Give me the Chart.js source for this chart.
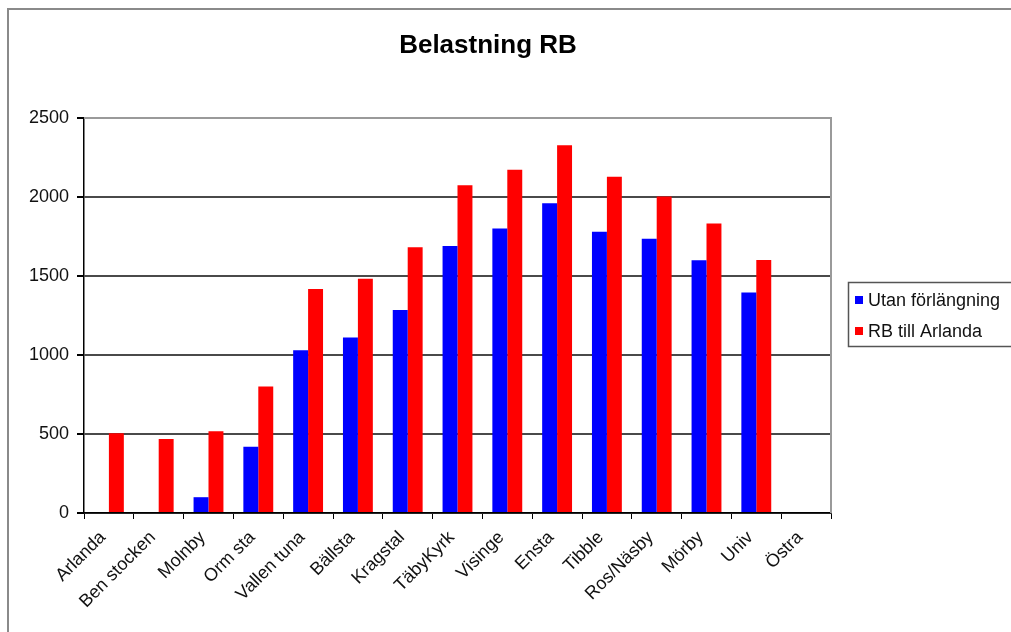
<!DOCTYPE html>
<html>
<head>
<meta charset="utf-8">
<script src="https://cdn.jsdelivr.net/npm/chart.js@4/dist/chart.umd.min.js"></script>
<style>
html, body { margin: 0; padding: 0; background: #fff; }
#wrap { position: relative; width: 1011px; height: 632px; overflow: hidden; }
#frame { position: absolute; left: 7px; top: 8px; width: 1020px; height: 660px; border: 2px solid #8a8a8a; }
canvas { position: absolute; left: 0; top: 0; }
</style>
</head>
<body>
<div id="wrap">
  <div id="frame"></div>
  <canvas id="myChart" width="1011" height="632"></canvas>
</div>
<script>
// Hållplatser längs banan
var stations = ['Arlanda', 'Ben stocken', 'Molnby', 'Orm sta', 'Vallen tuna', 'Bällsta', 'Kragstal',
                'TäbyKyrk', 'Visinge', 'Ensta', 'Tibble', 'Ros/Näsby', 'Mörby', 'Univ', 'Östra'];
// Belastning utan förlängning
var utanForlangning = [null, null, 100, 420, 1030, 1110, 1285, 1690, 1800, 1960, 1780, 1735, 1600, 1395, null];
// Belastning med RB till Arlanda
var rbTillArlanda = [505, 468, 518, 800, 1418, 1482, 1682, 2075, 2172, 2328, 2128, 2003, 1833, 1601, null];
var yTicks = [0, 500, 1000, 1500, 2000, 2500];

var FONT = "'Liberation Sans', Arial, sans-serif";

// title, legend and the plot frame drawn by hand
var decorPlugin = {
    id: 'decor',
    beforeDatasetsDraw: function(chart) {
        var c = chart.ctx, a = chart.chartArea;
        c.save();
        c.strokeStyle = '#9a9a9a';
        c.lineWidth = 2;
        c.beginPath();
        c.moveTo(a.left, a.top);
        c.lineTo(a.right, a.top);
        c.lineTo(a.right, a.bottom);
        c.stroke();
        c.restore();
    },
    afterDraw: function(chart) {
        var c = chart.ctx;
        c.save();
        c.fillStyle = '#000';
        c.font = 'bold 26px ' + FONT;
        c.textAlign = 'center';
        c.textBaseline = 'middle';
        c.fillText('Belastning RB', 488, 46);

        // legend
        c.strokeStyle = '#555';
        c.lineWidth = 1.5;
        c.strokeRect(848.5, 282.5, 190, 64);
        c.font = '18px ' + FONT;
        c.textAlign = 'left';
        var rows = [300, 331];
        chart.data.datasets.forEach(function(ds, i) {
            c.fillStyle = ds.backgroundColor;
            c.fillRect(855, rows[i] - 4, 8, 8);
            c.fillStyle = '#111';
            c.fillText(ds.label, 868, rows[i] + 1);
        });
        c.restore();
    }
};

var ctx = document.getElementById('myChart').getContext('2d');
var chart = new Chart(ctx, {
    type: 'bar',
    data: {
        labels: stations,
        datasets: [
            {
                label: 'Utan förlängning',
                data: utanForlangning,
                backgroundColor: '#0000ff',
                categoryPercentage: 0.6,
                barPercentage: 1.0
            },
            {
                label: 'RB till Arlanda',
                data: rbTillArlanda,
                backgroundColor: '#ff0000',
                categoryPercentage: 0.6,
                barPercentage: 1.0
            }
        ]
    },
    options: {
        responsive: false,
        animation: false,
        layout: { padding: { left: 0, right: 180, top: 118, bottom: 0 } },
        plugins: {
            legend: { display: false },
            title: { display: false },
            tooltip: { enabled: false }
        },
        scales: {
            x: {
                grid: {
                    offset: true,
                    drawOnChartArea: false,
                    drawTicks: true,
                    tickLength: 6,
                    color: '#000',
                    tickColor: '#000'
                },
                border: { color: '#000', width: 1.5 },
                ticks: {
                    minRotation: 45,
                    maxRotation: 45,
                    autoSkip: false,
                    padding: 8,
                    labelOffset: -6,
                    color: '#111',
                    font: { family: FONT, size: 18 }
                },
                afterFit: function(scale) { scale.height = 119; }
            },
            y: {
                min: 0,
                max: 2500,
                afterBuildTicks: function(scale) {
                    scale.ticks = yTicks.map(function(v) { return { value: v }; });
                },
                grid: {
                    color: function(c) { return c.tick && c.tick.value === 2500 ? '#9a9a9a' : '#4a4a4a'; },
                    lineWidth: 2,
                    drawTicks: true,
                    tickLength: 7,
                    tickColor: '#000'
                },
                border: { color: '#000', width: 1.5 },
                ticks: {
                    padding: 8,
                    color: '#111',
                    font: { family: FONT, size: 18 },
                    callback: function(value) { return String(value); }
                },
                afterFit: function(scale) { scale.width = 84; }
            }
        }
    },
    plugins: [decorPlugin]
});
</script>
</body>
</html>
